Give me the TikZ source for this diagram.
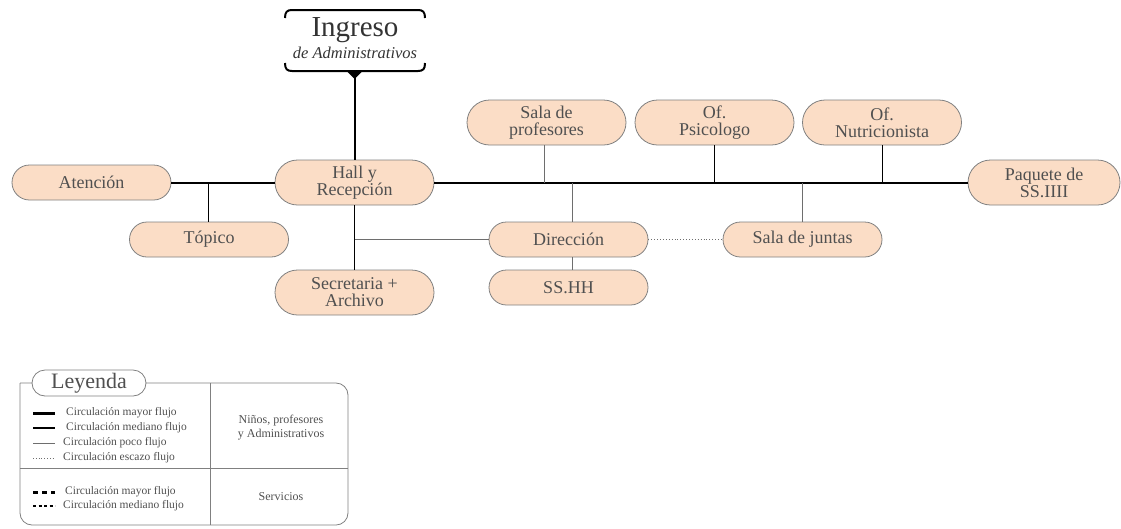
\documentclass[tikz,border=0pt]{standalone}
\usepackage{fontspec}
\setmainfont{Liberation Serif}
\usetikzlibrary{shapes.misc}
\definecolor{peach}{RGB}{251,221,198}
\definecolor{rimc}{RGB}{128,128,128}
\definecolor{txt}{RGB}{80,80,80}
\definecolor{lgray}{RGB}{110,110,110}
\begin{document}
\begin{tikzpicture}[x=1pt,y=-1pt,
  room/.style={draw=rimc, fill=peach, rounded rectangle, minimum width=159pt, minimum height=35pt,
    inner sep=0pt, align=center, text=txt, font=\fontsize{18}{17}\selectfont, line width=0.8pt},
  tall/.style={minimum height=45pt},
  major/.style={line width=2pt, black},
  medium/.style={line width=0.8pt, black},
  minor/.style={line width=0.9pt, lgray},
  scarce/.style={line width=0.9pt, lgray, dotted},
  legtxt/.style={anchor=west, inner sep=0pt, text=txt, font=\fontsize{11.5}{12}\selectfont},
  legcol/.style={inner sep=0pt, align=center, text=txt, font=\fontsize{12}{14}\selectfont},
]
\useasboundingbox (0,0) rectangle (1121,528);

% Ingreso header
\node[anchor=base, inner sep=0pt, text=black!80, font=\fontsize{29}{29}\selectfont] (ingreso) at (355,36) {Ingreso};
\node[anchor=base, inner sep=0pt, text=black!80, font=\itshape\fontsize{16.5}{17}\selectfont] (ingsub) at (355,58) {de Administrativos};
\draw[line width=2pt, black] (285,18) .. controls (285,12) and (287,10) .. (292,10) -- (418,10) .. controls (423,10) and (425,12) .. (425,18);
\draw[line width=2pt, black] (285,63) .. controls (285,69) and (287,71) .. (292,71) -- (418,71) .. controls (423,71) and (425,69) .. (425,63);
\fill[black] (346.5,71) -- (362.5,71) -- (354.5,79) -- cycle;
\coordinate (ingtip) at (354.5,78);

% rooms
\node[room] (aten) at (91.5,182.5) {Atención};
\node[room,tall] (hall) at (354.5,182.5) {Hall y\\Recepción};
\node[room] (topico) at (209,239.5) {Tópico};
\node[room,tall] (secre) at (354.5,292.5) {Secretaria +\\Archivo};
\node[room] (dir) at (568.5,239.5) {Dirección};
\node[room] (sshh) at (568.5,287.5) {SS.HH};
\node[room] (juntas) at (802.5,239.5) {Sala de juntas};
\node[room,tall] (prof) at (546.5,122.5) {Sala de\\profesores};
\node[room,tall] (psico) at (714.5,122.5) {Of.\\Psicologo};
\node[room,tall] (nutri) at (882,122.5) {Of.\\Nutricionista};
\node[room,tall,minimum width=152pt] (paq) at (1044,182.5) {Paquete de\\SS.IIII};

% connectors
\draw[major] (ingtip) -- (hall.north);
\draw[major] (aten.east) -- (hall.west);
\draw[major] (hall.east) -- (paq.west);
\draw[line width=1.4pt, black] (hall.south) -- (secre.north);
\draw[medium] ([xshift=-1pt]topico.north) -- ([xshift=-1pt]topico.north |- aten.east);
\draw[minor] ([xshift=-2.5pt]prof.south) -- ([xshift=-2.5pt]prof.south |- hall.east);
\draw[medium] (psico.south) -- (psico.south |- hall.east);
\draw[medium] (nutri.south) -- (nutri.south |- hall.east);
\draw[minor] ([xshift=3.5pt]dir.north) -- ([xshift=3.5pt]dir.north |- hall.east);
\draw[minor] (juntas.north) -- (juntas.north |- hall.east);
\draw[minor] (hall.south |- dir.west) -- (dir.west);
\draw[minor] ([xshift=3.5pt]dir.south) -- ([xshift=3.5pt]sshh.north);
\draw[scarce] (dir.east) -- (juntas.west);

% legend
\draw[line width=0.8pt, rimc] (20,383) [rounded corners=12pt] -- (348,383) -- (348,525) -- (20,525) -- (20,383);
\draw[line width=0.8pt, rimc] (210,383) -- (210,525);
\draw[line width=0.8pt, rimc] (20,468) -- (348,468);
\node[draw=rimc, line width=0.8pt, fill=white, rounded rectangle, minimum width=114pt, minimum height=26pt, inner sep=0pt,
  text=txt, font=\fontsize{22}{22}\selectfont] (leyenda) at (89,383) {Leyenda};

\draw[line width=3pt, black] (33,413) -- (55,413);
\node[legtxt] (l1) at (66,413) {Circulación mayor flujo};
\draw[line width=1.8pt, black] (33,428) -- (55,428);
\node[legtxt] (l2) at (66,428) {Circulación mediano flujo};
\draw[line width=1pt, lgray] (33,443) -- (55,443);
\node[legtxt] (l3) at (63,443) {Circulación poco flujo};
\draw[line width=0.8pt, lgray, dotted] (33,458) -- (55,458);
\node[legtxt] (l4) at (63,458) {Circulación escazo flujo};
\draw[line width=3pt, black, dash pattern=on 5pt off 4pt] (33,492) -- (55,492);
\node[legtxt] (l5) at (65,492) {Circulación mayor flujo};
\draw[line width=1.2pt, black, dash pattern=on 3pt off 2.5pt] (33,506) -- (55,506);
\node[legtxt] (l6) at (63,506) {Circulación mediano flujo};

\node[legcol] (grp1) at (281,428) {Niños, profesores\\y Administrativos};
\node[legcol] (grp2) at (281,497) {Servicios};
\end{tikzpicture}
\end{document}
